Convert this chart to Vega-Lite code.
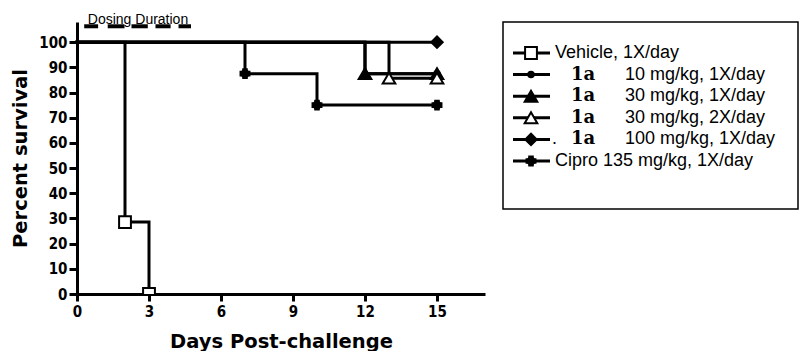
{
  "$schema": "https://vega.github.io/schema/vega-lite/v6.json",
  "padding": {"left": 10, "top": 13, "right": 0, "bottom": 0},
  "background": "white",
  "spacing": 18,
  "bounds": "flush",
  "config": {"view": {"stroke": null}},
  "datasets": {
    "lines": [
      {"series": "Vehicle", "day": 0, "survival": 100},
      {"series": "Vehicle", "day": 2, "survival": 28.57},
      {"series": "Vehicle", "day": 3, "survival": 0},
      {"series": "1a 10", "day": 0, "survival": 100},
      {"series": "1a 10", "day": 12, "survival": 87.5},
      {"series": "1a 10", "day": 15, "survival": 87.5},
      {"series": "1a 30 1X", "day": 0, "survival": 100},
      {"series": "1a 30 1X", "day": 12, "survival": 87.5},
      {"series": "1a 30 1X", "day": 15, "survival": 87.5},
      {"series": "1a 30 2X", "day": 0, "survival": 100},
      {"series": "1a 30 2X", "day": 13, "survival": 85.71},
      {"series": "1a 30 2X", "day": 15, "survival": 85.71},
      {"series": "1a 100", "day": 0, "survival": 100},
      {"series": "1a 100", "day": 15, "survival": 100},
      {"series": "Cipro", "day": 0, "survival": 100},
      {"series": "Cipro", "day": 7, "survival": 87.5},
      {"series": "Cipro", "day": 10, "survival": 75},
      {"series": "Cipro", "day": 15, "survival": 75}
    ],
    "points": [
      {"series": "Vehicle", "day": 2, "survival": 28.57},
      {"series": "Vehicle", "day": 3, "survival": 0},
      {"series": "1a 10", "day": 15, "survival": 87.5},
      {"series": "1a 30 1X", "day": 12, "survival": 87.5},
      {"series": "1a 30 1X", "day": 15, "survival": 87.5},
      {"series": "1a 30 2X", "day": 13, "survival": 85.71},
      {"series": "1a 30 2X", "day": 15, "survival": 85.71},
      {"series": "1a 100", "day": 15, "survival": 100},
      {"series": "Cipro", "day": 7, "survival": 87.5},
      {"series": "Cipro", "day": 10, "survival": 75},
      {"series": "Cipro", "day": 15, "survival": 75}
    ],
    "dosing": [
      {"start": 0.3, "end": 0.88, "level": 106.3},
      {"start": 1.28, "end": 1.98, "level": 106.3},
      {"start": 2.27, "end": 2.95, "level": 106.3},
      {"start": 3.27, "end": 3.9, "level": 106.3},
      {"start": 4.23, "end": 4.75, "level": 106.3}
    ],
    "legend": [
      {"series": "Vehicle", "pre": "Vehicle, 1X/day", "dot": "", "bold": "", "rest": ""},
      {"series": "1a 10", "pre": "", "dot": "", "bold": "1a", "rest": "10 mg/kg, 1X/day"},
      {"series": "1a 30 1X", "pre": "", "dot": "", "bold": "1a", "rest": "30 mg/kg, 1X/day"},
      {"series": "1a 30 2X", "pre": "", "dot": "", "bold": "1a", "rest": "30 mg/kg, 2X/day"},
      {"series": "1a 100", "pre": "", "dot": ".", "bold": "1a", "rest": "100 mg/kg, 1X/day"},
      {"series": "Cipro", "pre": "Cipro 135 mg/kg, 1X/day", "dot": "", "bold": "", "rest": ""}
    ]
  },
  "hconcat": [
    {
      "width": 408,
      "height": 272,
      "encoding": {
        "x": {"type": "quantitative", "scale": {"domain": [0, 17], "nice": false},
          "axis": {"values": [0, 3, 6, 9, 12, 15], "title": "Days Post-challenge", "grid": false, "labelOverlap": false, "labelFlush": false,
            "domainColor": "black", "domainWidth": 3, "tickColor": "black", "tickWidth": 3, "tickSize": 7,
            "labelFont": "DejaVu Sans Condensed", "labelFontWeight": "bold", "labelFontSize": 15, "labelColor": "black", "labelPadding": 3,
            "titleFont": "DejaVu Sans", "titleFontWeight": "bold", "titleFontSize": 19.5, "titleColor": "black", "titlePadding": 13}},
        "y": {"type": "quantitative", "scale": {"domain": [0, 108], "nice": false},
          "axis": {"values": [0, 10, 20, 30, 40, 50, 60, 70, 80, 90, 100], "tickCount": 11, "title": "Percent survival", "grid": false, "labelOverlap": false, "labelFlush": false,
            "domainColor": "black", "domainWidth": 3, "tickColor": "black", "tickWidth": 3, "tickSize": 8,
            "labelFont": "DejaVu Sans Condensed", "labelFontWeight": "bold", "labelFontSize": 15, "labelColor": "black", "labelPadding": 2,
            "titleFont": "DejaVu Sans", "titleFontWeight": "bold", "titleFontSize": 19.5, "titleColor": "black", "titlePadding": 8}}
      },
      "layer": [
        {
          "data": {"name": "lines"},
          "mark": {"type": "line", "interpolate": "step-after", "strokeWidth": 3, "color": "black", "strokeCap": "square"},
          "encoding": {
            "x": {"field": "day"},
            "y": {"field": "survival"},
            "detail": {"field": "series"}
          }
        },
        {
          "data": {"name": "dosing"},
          "mark": {"type": "rule", "strokeWidth": 4, "color": "black"},
          "encoding": {
            "x": {"field": "start"},
            "x2": {"field": "end"},
            "y": {"field": "level"}
          }
        },
        {
          "data": {"values": [{"label": "Dosing Duration", "day": 0.45, "level": 107.2}]},
          "mark": {"type": "text", "align": "left", "baseline": "alphabetic", "font": "Liberation Sans", "fontSize": 14, "color": "black"},
          "encoding": {
            "text": {"field": "label"},
            "x": {"field": "day"},
            "y": {"field": "level"}
          }
        },
        {
          "data": {"name": "points"},
          "mark": {"type": "point", "filled": false, "stroke": "black", "strokeWidth": 2, "opacity": 1, "clip": true},
          "encoding": {
            "x": {"field": "day"},
            "y": {"field": "survival"},
            "shape": {"field": "series", "type": "nominal", "legend": null,
              "scale": {"domain": ["Vehicle", "1a 10", "1a 30 1X", "1a 30 2X", "1a 100", "Cipro"],
                "range": ["square", "circle", "triangle-up", "triangle-up", "diamond", "cross"]}},
            "fill": {"field": "series", "type": "nominal", "legend": null,
              "scale": {"domain": ["Vehicle", "1a 10", "1a 30 1X", "1a 30 2X", "1a 100", "Cipro"],
                "range": ["white", "black", "black", "white", "black", "black"]}},
            "size": {"field": "series", "type": "nominal", "legend": null,
              "scale": {"type": "ordinal", "domain": ["Vehicle", "1a 10", "1a 30 1X", "1a 30 2X", "1a 100", "Cipro"],
                "range": [140, 30, 160, 160, 130, 80]}}
          }
        },
        {
          "data": {"name": "points"},
          "transform": [{"filter": "datum.series === 'Cipro'"}],
          "mark": {"type": "point", "shape": "cross", "filled": true, "color": "black", "size": 80, "angle": 45, "opacity": 1},
          "encoding": {
            "x": {"field": "day"},
            "y": {"field": "survival"}
          }
        }
      ]
    },
    {
      "width": 295,
      "height": 187,
      "view": {"stroke": "black", "strokeWidth": 1.5},
      "data": {"name": "legend"},
      "layer": [
        {
          "mark": {"type": "rule", "strokeWidth": 3, "color": "black"},
          "encoding": {
            "x": {"datum": 10, "type": "quantitative", "scale": {"domain": [0, 295], "nice": false}, "axis": null},
            "x2": {"datum": 47},
            "y": {"field": "series", "type": "ordinal", "axis": null,
              "scale": {"type": "point", "domain": ["Vehicle", "1a 10", "1a 30 1X", "1a 30 2X", "1a 100", "Cipro"], "range": [31, 139], "padding": 0}}
          }
        },
        {
          "mark": {"type": "point", "filled": false, "stroke": "black", "strokeWidth": 2, "opacity": 1},
          "encoding": {
            "x": {"datum": 28, "type": "quantitative"},
            "y": {"field": "series", "type": "ordinal"},
            "shape": {"field": "series", "type": "nominal", "legend": null,
              "scale": {"domain": ["Vehicle", "1a 10", "1a 30 1X", "1a 30 2X", "1a 100", "Cipro"],
                "range": ["square", "circle", "triangle-up", "triangle-up", "diamond", "cross"]}},
            "fill": {"field": "series", "type": "nominal", "legend": null,
              "scale": {"domain": ["Vehicle", "1a 10", "1a 30 1X", "1a 30 2X", "1a 100", "Cipro"],
                "range": ["white", "black", "black", "white", "black", "black"]}},
            "size": {"field": "series", "type": "nominal", "legend": null,
              "scale": {"type": "ordinal", "domain": ["Vehicle", "1a 10", "1a 30 1X", "1a 30 2X", "1a 100", "Cipro"],
                "range": [150, 80, 130, 120, 110, 75]}}
          }
        },
        {
          "transform": [{"filter": "datum.series === 'Cipro'"}],
          "mark": {"type": "point", "shape": "cross", "filled": true, "color": "black", "size": 75, "angle": 45, "opacity": 1},
          "encoding": {
            "x": {"datum": 28, "type": "quantitative"},
            "y": {"field": "series", "type": "ordinal"}
          }
        },
        {
          "mark": {"type": "text", "align": "left", "baseline": "middle", "font": "Liberation Sans", "fontSize": 18, "color": "black"},
          "encoding": {
            "x": {"datum": 52, "type": "quantitative"},
            "y": {"field": "series", "type": "ordinal"},
            "text": {"field": "pre"}
          }
        },
        {
          "mark": {"type": "text", "align": "left", "baseline": "middle", "font": "Liberation Sans", "fontSize": 18, "color": "black"},
          "encoding": {
            "x": {"datum": 49, "type": "quantitative"},
            "y": {"field": "series", "type": "ordinal"},
            "text": {"field": "dot"}
          }
        },
        {
          "mark": {"type": "text", "align": "left", "baseline": "middle", "font": "DejaVu Serif", "fontWeight": "bold", "fontSize": 18, "color": "black"},
          "encoding": {
            "x": {"datum": 68, "type": "quantitative"},
            "y": {"field": "series", "type": "ordinal"},
            "text": {"field": "bold"}
          }
        },
        {
          "mark": {"type": "text", "align": "left", "baseline": "middle", "font": "Liberation Sans", "fontSize": 18, "color": "black"},
          "encoding": {
            "x": {"datum": 122, "type": "quantitative"},
            "y": {"field": "series", "type": "ordinal"},
            "text": {"field": "rest"}
          }
        }
      ]
    }
  ]
}
